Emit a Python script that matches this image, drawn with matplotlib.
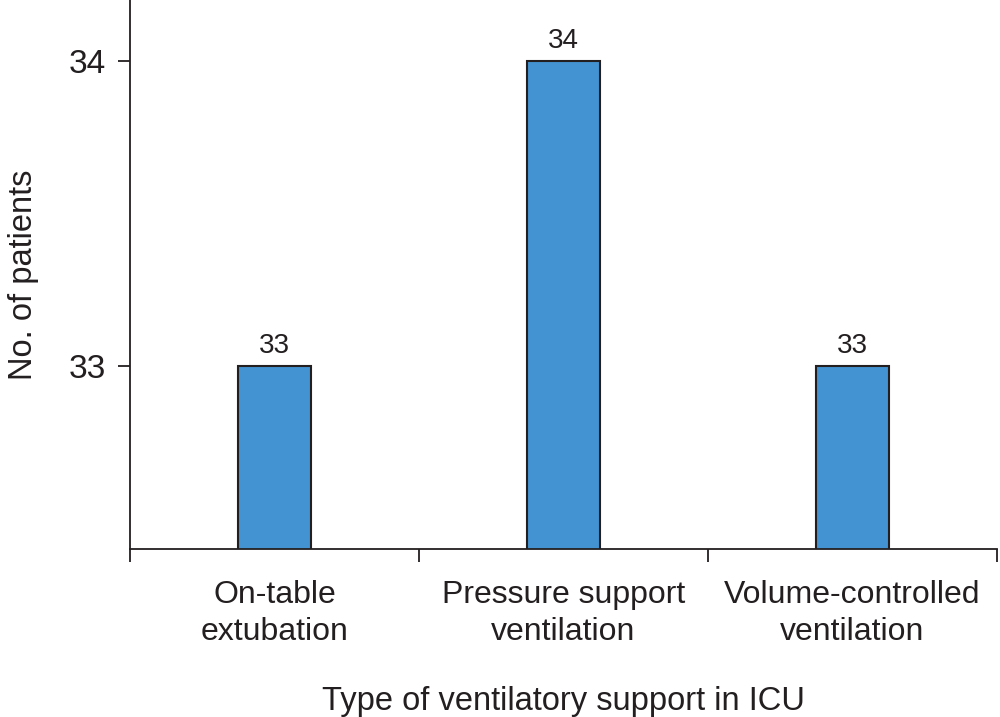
import matplotlib.pyplot as plt

plt.rcParams['font.family'] = ['Liberation Sans', 'DejaVu Sans']

categories = ['On-table\nextubation', 'Pressure support\nventilation',
              'Volume-controlled\nventilation']
patients = [33, 34, 33]
y_ticks = [33, 34]


def main():
    fig = plt.figure(figsize=(10, 7.17), dpi=100)
    ax = fig.add_axes([0.13, 0.234, 0.867, 0.766])

    x = list(range(len(categories)))
    ax.bar(x, patients, width=0.25, bottom=0, color='#4393D2',
           edgecolor='#231F20', linewidth=1.5, zorder=2)
    for xi, v in zip(x, patients):
        ax.annotate(str(v), (xi, v), xytext=(0, 5),
                    textcoords='offset points', ha='center', va='bottom',
                    fontsize=20, color='#231F20')

    ax.set_xlim(-0.5, 2.5)
    ax.set_ylim(32.4, 34.2)
    ax.set_yticks(y_ticks)
    ax.set_xticks(x)
    ax.set_xticklabels(categories, fontsize=23, color='#231F20',
                       linespacing=1.3)
    ax.set_xticks([-0.5, 0.5, 1.5, 2.5], minor=True)
    ax.tick_params(axis='x', which='major', length=0, pad=22)
    ax.tick_params(axis='x', which='minor', length=9, width=1.3,
                   color='#231F20')
    ax.tick_params(axis='y', length=9, width=1.3, color='#231F20',
                   labelsize=24, labelcolor='#231F20', pad=8)

    for side in ['top', 'right']:
        ax.spines[side].set_visible(False)
    for side in ['left', 'bottom']:
        ax.spines[side].set_linewidth(1.3)
        ax.spines[side].set_color('#231F20')

    ax.set_xlabel('Type of ventilatory support in ICU', fontsize=23.5,
                  color='#231F20', labelpad=28)
    ax.set_ylabel('No. of patients', fontsize=23.5, color='#231F20',
                  labelpad=22)

    fig.savefig('out.png', dpi=100)


if __name__ == '__main__':
    main()
